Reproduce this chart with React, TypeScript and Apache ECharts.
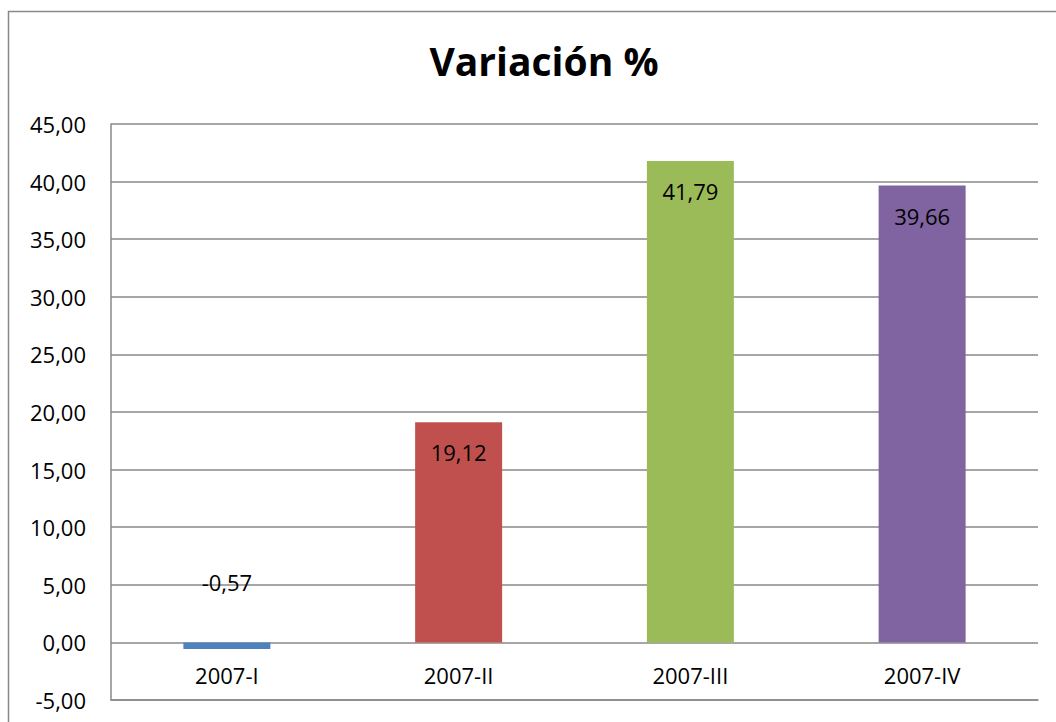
import React, { useEffect, useRef } from "react";
import * as echarts from "echarts";

const categories = ["2007-I", "2007-II", "2007-III", "2007-IV"];
const values = [-0.57, 19.12, 41.79, 39.66];
const palette = ["#4F81BD", "#C0504D", "#9BBB59", "#8064A2"];
const yMin = -5;
const yMax = 45;
const yStep = 5;
const titleText = "Variación %";

const fmt = (v: number) => v.toFixed(2).replace(".", ",");
const FONT = "'Open Sans', 'Noto Sans', sans-serif";
const LINE = "#898989";

export default function App() {
  const ref = useRef<HTMLDivElement>(null);
  useEffect(() => {
    if (!ref.current) return;
    const chart = echarts.init(ref.current, undefined, { renderer: "svg" });
    chart.setOption({
      animation: false,
      backgroundColor: "#ffffff",
      title: {
        text: titleText,
        left: 539,
        top: 36,
        textAlign: "center",
        textStyle: { fontFamily: FONT, fontWeight: "bold", fontSize: 39, color: "#000" },
      },
      graphic: [
        {
          type: "rect",
          shape: { x: 8.5, y: 11.5, width: 1070, height: 740 },
          style: { fill: "none", stroke: LINE, lineWidth: 1.5 },
          silent: true,
        },
      ],
      grid: {
        left: 111,
        right: 18,
        top: 124,
        bottom: 22,
        containLabel: false,
        outerBoundsMode: "none",
      },
      xAxis: {
        type: "category",
        data: categories,
        axisLine: { show: true, onZero: false, lineStyle: { color: LINE, width: 1.5 } },
        axisTick: { show: false },
        axisLabel: { fontFamily: FONT, fontSize: 22, color: "#000", margin: -36 },
        splitLine: { show: false },
      },
      yAxis: {
        type: "value",
        min: yMin,
        max: yMax,
        interval: yStep,
        axisLine: { show: true, lineStyle: { color: LINE, width: 1.5 } },
        axisTick: { show: false },
        axisLabel: {
          fontFamily: FONT,
          fontSize: 22,
          color: "#000",
          margin: 25,
          formatter: (v: number) => fmt(v),
        },
        splitLine: { show: true, lineStyle: { color: LINE, width: 1.5 } },
      },
      series: [
        {
          type: "bar",
          barWidth: 87,
          data: values.map((v, i) => ({
            value: v,
            itemStyle: { color: palette[i % palette.length] },
            label:
              v < 0
                ? { show: true, position: "top", distance: 49 }
                : { show: true, position: "insideTop", distance: 19 },
          })),
          label: {
            show: true,
            fontFamily: FONT,
            fontSize: 22,
            color: "#000",
            formatter: (p: any) => fmt(p.value),
          },
        },
      ],
    });
    return () => chart.dispose();
  }, []);
  return (
    <div
      ref={ref}
      style={{ position: "absolute", left: 0, top: 0, width: 1056, height: 722 }}
    />
  );
}
